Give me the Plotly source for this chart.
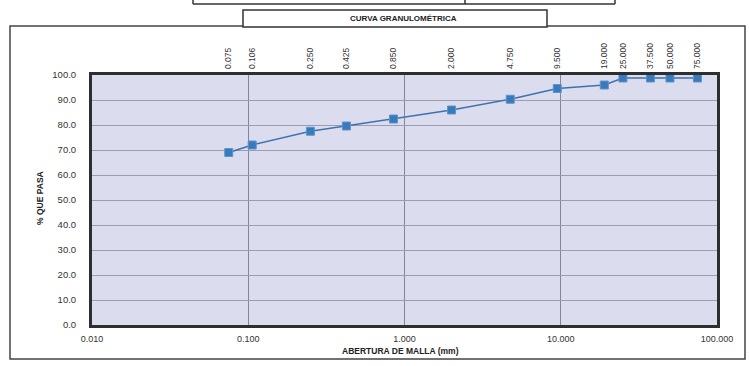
import plotly.graph_objects as go

# ---- data ----
sieve_mm = [0.075, 0.106, 0.250, 0.425, 0.850, 2.000, 4.750, 9.500, 19.000, 25.000, 37.500, 50.000, 75.000]
sieve_labels = ["0.075", "0.106", "0.250", "0.425", "0.850", "2.000", "4.750", "9.500",
                "19.000", "25.000", "37.500", "50.000", "75.000"]
pct_passing = [69.0, 72.0, 77.5, 79.6, 82.4, 86.0, 90.3, 94.6, 96.0, 98.8, 98.8, 98.8, 98.8]
x_ticks = [0.01, 0.1, 1, 10, 100]
x_ticktext = ["0.010", "0.100", "1.000", "10.000", "100.000"]
y_ticks = [0, 10, 20, 30, 40, 50, 60, 70, 80, 90, 100]

W, H = 749, 366
L, R, T, B = 92, 32, 75, 41
PW, PH = W - L - R, H - T - B


def px(x):  # window pixel -> paper
    return (x - L) / PW


def py(y):
    return (H - B - y) / PH


FONT = "Liberation Sans, Arial, sans-serif"
TXT = "#333333"

fig = go.Figure()
fig.add_trace(go.Scatter(
    x=sieve_mm, y=pct_passing, mode="lines+markers",
    line=dict(color="#3f72ad", width=1.5),
    marker=dict(symbol="square", size=8, color="#3a7abb",
                line=dict(color="#5b95cf", width=1)),
    cliponaxis=False, showlegend=False, xaxis="x", yaxis="y",
))
# invisible trace to activate the top axis
fig.add_trace(go.Scatter(x=sieve_mm, y=pct_passing, mode="markers",
                         marker=dict(opacity=0), hoverinfo="skip",
                         showlegend=False, xaxis="x2", yaxis="y"))

shapes = []
# outer chart frame
shapes.append(dict(type="rect", xref="paper", yref="paper",
                   x0=px(10), x1=px(745), y0=py(359), y1=py(26),
                   line=dict(color="#444444", width=1.5), layer="below"))
# title box
shapes.append(dict(type="rect", xref="paper", yref="paper",
                   x0=px(243), x1=px(547), y0=py(27), y1=py(10),
                   line=dict(color="#333333", width=1.5), fillcolor="white"))
# partial table above (cropped)
shapes.append(dict(type="line", xref="paper", yref="paper",
                   x0=px(193), x1=px(615), y0=py(4), y1=py(4),
                   line=dict(color="#333333", width=1.5)))
for xx in (193, 465, 615):
    shapes.append(dict(type="line", xref="paper", yref="paper",
                       x0=px(xx), x1=px(xx), y0=py(4), y1=py(-2),
                       line=dict(color="#333333", width=1.5)))

ann_common = dict(xref="paper", yref="paper", showarrow=False,
                  xanchor="center", yanchor="middle")

fig.update_layout(
    width=W, height=H,
    margin=dict(l=L, r=R, t=T, b=B, autoexpand=False),
    paper_bgcolor="white",
    plot_bgcolor="#dcdcef",
    font=dict(family=FONT, size=9, color=TXT),
    shapes=shapes,
    annotations=[
        dict(text="<b>CURVA GRANULOMÉTRICA</b>", x=px(403), y=py(18),
             font=dict(size=8, color="#222"), **ann_common),
        dict(text="<b>ABERTURA DE MALLA (mm)</b>", x=px(400), y=py(351),
             font=dict(size=8.5, color="#222"), **ann_common),
        dict(text="<b>% QUE PASA</b>", textangle=-90, x=px(40), y=py(198),
             font=dict(size=8.5, color="#222"), **ann_common),
    ],
    xaxis=dict(type="log", range=[-2, 2], tickvals=x_ticks, ticktext=x_ticktext,
               showgrid=True, gridcolor="#858599", gridwidth=1, automargin=False,
               showline=True, linecolor="#2e2e2e", linewidth=3, mirror=True,
               ticks="", ticklabelstandoff=3, zeroline=False,
               tickfont=dict(size=9, color=TXT)),
    xaxis2=dict(type="log", range=[-2, 2], overlaying="x", side="top", automargin=False,
                tickvals=sieve_mm, ticktext=sieve_labels, tickangle=-90,
                showgrid=False, showline=False, ticks="", ticklabelstandoff=5,
                zeroline=False, tickfont=dict(size=8.5, color=TXT)),
    yaxis=dict(range=[0, 100], tickvals=y_ticks, tickformat=".1f", automargin=False,
               showgrid=True, gridcolor="#9c9cb2", gridwidth=1,
               showline=True, linecolor="#2e2e2e", linewidth=3, mirror=True,
               ticks="", ticklabelstandoff=11, zeroline=False,
               tickfont=dict(size=9.5, color=TXT)),
)

fig.write_html("out.html", config={"displayModeBar": False},
               post_script="document.body.style.margin='0';")
